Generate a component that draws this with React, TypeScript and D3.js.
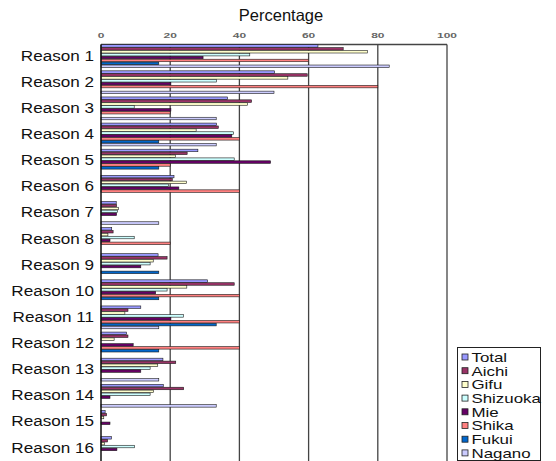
import React from "react";
import * as d3 from "d3";

const reasons = [
  "Reason 1", "Reason 2", "Reason 3", "Reason 4", "Reason 5", "Reason 6", "Reason 7", "Reason 8",
  "Reason 9", "Reason 10", "Reason 11", "Reason 12", "Reason 13", "Reason 14", "Reason 15", "Reason 16",
];
const seriesNames = ["Total", "Aichi", "Gifu", "Shizuoka", "Mie", "Shika", "Fukui", "Nagano"];
const seriesColors = ["#9999ff", "#993366", "#ffffcc", "#ccffff", "#660066", "#ff8080", "#0066cc", "#ccccff"];

const total = [62.7, 50.2, 36.6, 33.4, 28, 21.1, 4.4, 3.1, 16.5, 30.8, 11.5, 7.4, 17.9, 18, 1.2, 3];
const aichi = [70, 59.6, 43.5, 33.9, 24.9, 20.6, 4.5, 3.5, 19.1, 38.5, 7.8, 7.8, 21.6, 23.9, 1.6, 1.9];
const gifu = [77, 54, 42.3, 27.5, 21.5, 24.7, 5, 2, 15.1, 24.8, 6.9, 3.8, 16.4, 15.2, 0.8, 1];
const shizuoka = [43, 33.4, 9.6, 38.3, 38.5, 19.5, 4.8, 9.6, 14.2, 19.1, 23.8, 0, 14.2, 14.2, 0, 9.7];
const mie = [29.5, 20.2, 20.2, 37.8, 49, 22.5, 4.5, 2.6, 11.5, 15.8, 20.2, 9.3, 11.5, 2.6, 2.6, 4.6];
const shika = [60, 80, 20, 40, 20, 40, 0, 20, 0, 40, 40, 40, 0, 0, 0, 0];
const fukui = [16.7, 0, 0, 16.7, 16.7, 0, 0, 0, 16.7, 16.7, 33.3, 16.7, 0, 0, 0, 0];
const nagano = [83.3, 50, 33.3, 33.3, 0, 0, 16.7, 0, 0, 0, 16.7, 0, 16.7, 33.3, 0, 0];

const xTicks = [0, 20, 40, 60, 80, 100];
const seriesValues = [total, aichi, gifu, shizuoka, mie, shika, fukui, nagano];

const W = 556;
const H = 461;
const FONT = "'Liberation Sans', Arial, Helvetica, sans-serif";

export default function App() {
  const x = d3.scaleLinear().domain([0, 100]).range([101, 447]);
  const y0 = d3.scaleBand<string>().domain(reasons).range([44.5, 462.5]).padding(0);
  const slots = [...seriesNames, "__gap"];
  const y1 = d3.scaleBand<string>().domain(slots).range([0, y0.bandwidth()]).padding(0);
  const top = 44.5;

  return (
    <svg
      width={W}
      height={H}
      style={{ position: "absolute", left: 0, top: 0, background: "#fff" }}
      fontFamily={FONT}
    >
      <rect x={0} y={0} width={W} height={H} fill="#fff" />
      {/* title */}
      <text x={281} y={21} fontSize={16.5} textAnchor="middle" fill="#111">
        Percentage
      </text>
      {/* tick labels */}
      {xTicks.map((t) => (
        <text
          key={t}
          transform={`translate(${x(t)},38) scale(1.5,1)`}
          fontSize={8}
          fontWeight={700}
          textAnchor="middle"
          fill="#666"
        >
          {t}
        </text>
      ))}
      {/* gridlines */}
      {xTicks.slice(1).map((t) => (
        <line key={t} x1={x(t)} x2={x(t)} y1={top} y2={H} stroke="#444" strokeWidth={1.3} />
      ))}
      <line x1={x(0)} x2={x(100)} y1={top} y2={top} stroke="#444" strokeWidth={1.3} />
      {/* bars */}
      {reasons.map((r, i) => (
        <g key={r} transform={`translate(0,${y0(r)})`}>
          {seriesNames.map((s, j) => {
            const v = seriesValues[j][i];
            if (v <= 0) return null;
            return (
              <rect
                key={s}
                x={x(0)}
                y={y1(s)! + 0.2}
                width={x(v) - x(0)}
                height={y1.bandwidth() - 0.4}
                fill={seriesColors[j]}
                stroke="#1a1a1a"
                strokeWidth={0.6}
              />
            );
          })}
        </g>
      ))}
      {/* left axis */}
      <line x1={x(0)} x2={x(0)} y1={top} y2={H} stroke="#111" strokeWidth={1.5} />
      {/* category labels */}
      {reasons.map((r) => (
        <text
          key={r}
          transform={`translate(94,${y0(r)! + y0.bandwidth() / 2 - 2.5}) scale(1.14,1)`}
          fontSize={15}
          textAnchor="end"
          dominantBaseline="central"
          fill="#111"
        >
          {r}
        </text>
      ))}
      {/* legend */}
      <rect x={457.5} y={347.5} width={83} height={113} fill="#fff" stroke="#222" strokeWidth={1} />
      {seriesNames.map((s, j) => {
        const cy = 357 + j * 13.7;
        return (
          <g key={s}>
            <rect x={462} y={cy - 3} width={6} height={6} fill={seriesColors[j]} stroke="#222" strokeWidth={0.8} />
            <text
              transform={`translate(471.5,${cy}) scale(1.25,1)`}
              fontSize={13.5}
              dominantBaseline="central"
              fill="#111"
            >
              {s}
            </text>
          </g>
        );
      })}
    </svg>
  );
}
